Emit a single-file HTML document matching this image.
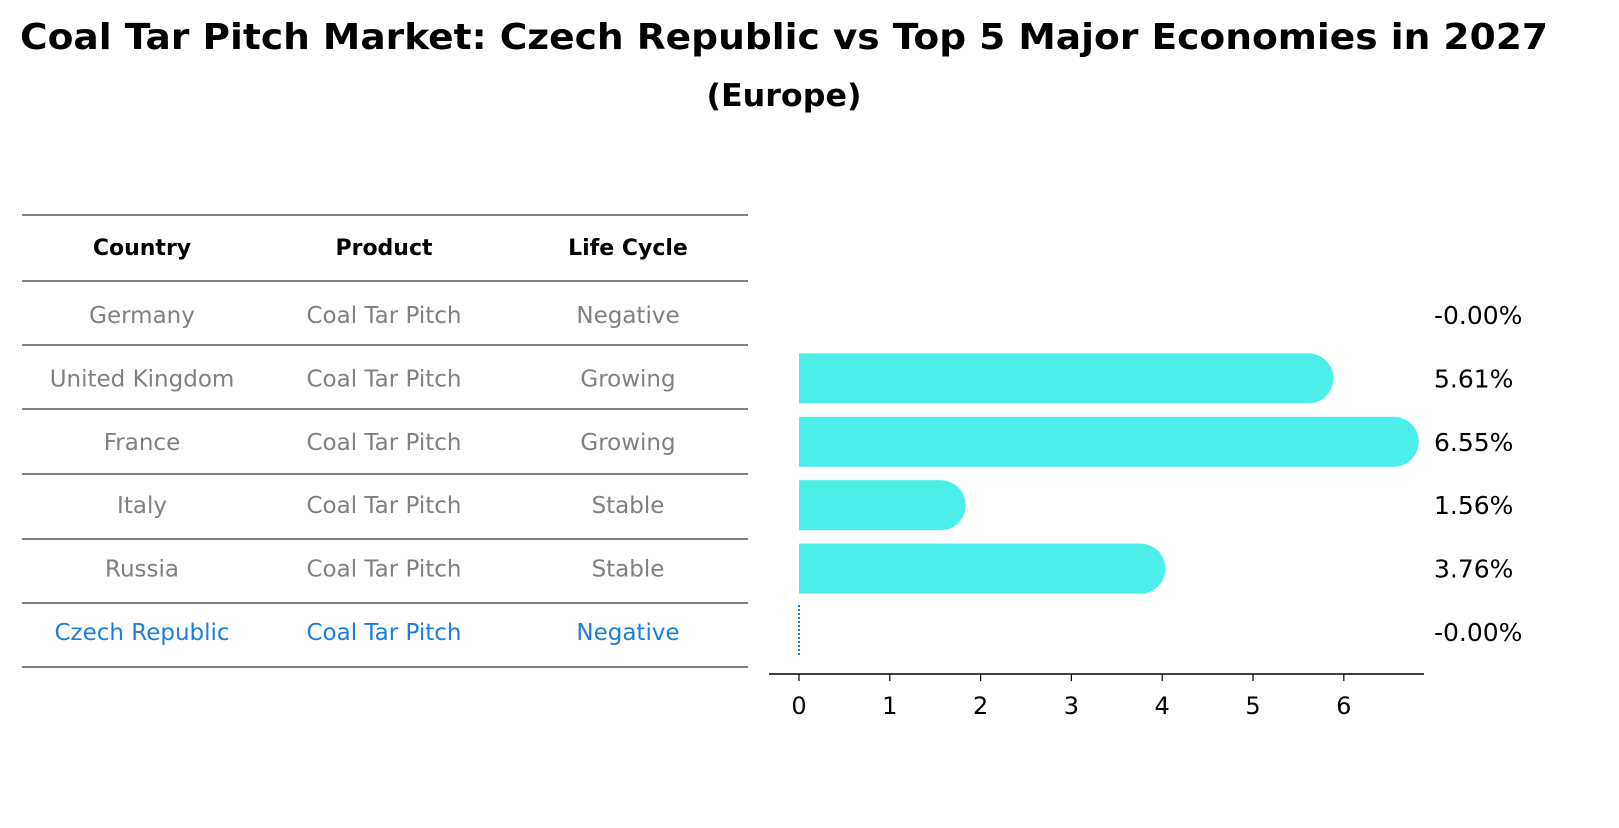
<!DOCTYPE html>
<html><head><meta charset="utf-8"><style>
body{margin:0;background:#fff;font-family:"Liberation Sans","DejaVu Sans",sans-serif;}
</style></head><body>
<svg width="1619" height="823" xmlns="http://www.w3.org/2000/svg" font-family="DejaVu Sans, Liberation Sans, sans-serif">
<text x="784" y="49" text-anchor="middle" font-size="36" font-weight="bold" textLength="1528" lengthAdjust="spacingAndGlyphs">Coal Tar Pitch Market: Czech Republic vs Top 5 Major Economies in 2027</text>
<text x="784" y="106" text-anchor="middle" font-size="31" font-weight="bold" textLength="155" lengthAdjust="spacingAndGlyphs">(Europe)</text>
<g id="table"></g>
<g id="plot"></g>
</svg>
<script>
const countries=["Germany","United Kingdom","France","Italy","Russia","Czech Republic"];
const products=["Coal Tar Pitch","Coal Tar Pitch","Coal Tar Pitch","Coal Tar Pitch","Coal Tar Pitch","Coal Tar Pitch"];
const lifeCycles=["Negative","Growing","Growing","Stable","Stable","Negative"];
const values=[0,5.61,6.55,1.56,3.76,0];
const valueLabels=["-0.00%","5.61%","6.55%","1.56%","3.76%","-0.00%"];
const xTicks=[0,1,2,3,4,5,6];
const NS="http://www.w3.org/2000/svg";
function mk(p,t,a,txt){const e=document.createElementNS(NS,t);for(const k in a)e.setAttribute(k,a[k]);if(txt!==undefined)e.textContent=txt;p.appendChild(e);return e;}
const tbl=document.getElementById('table');
const lines=[215,281,345,409,474,539,603,667];
lines.forEach((y,i)=>{const l=mk(tbl,'line',{x1:22,x2:748,y1:y,y2:y,stroke:'#000','stroke-width':1});

});
const cx=[142,384,628];
["Country","Product","Life Cycle"].forEach((h,i)=>{const t=mk(tbl,'text',{x:cx[i],y:255,'text-anchor':'middle','font-size':22,'font-weight':'bold'},h);

});
const rowY=i=>315+i*63.4;
countries.forEach((c,i)=>{const col=i==5?'#1a7fdc':'#808080';
[c,products[i],lifeCycles[i]].forEach((v,j)=>{const t=mk(tbl,'text',{x:cx[j],y:rowY(i)+8,'text-anchor':'middle','font-size':23,fill:col},v);

});});
const plot=document.getElementById('plot');
const x=v=>799+v*90.8;
const bh=50;
values.forEach((v,i)=>{const y=rowY(i);
if(v>0){const g=mk(plot,'g',{fill:'#4deeea'});


mk(g,'rect',{x:x(0),y:y-bh/2,width:x(v)-x(0),height:bh});
mk(g,'circle',{cx:x(v),cy:y,r:bh/2});}
else if(i==5){const l=mk(plot,'line',{x1:x(0),x2:x(0),y1:y-27,y2:y+25,stroke:'#1a7fdc','stroke-width':2,'stroke-dasharray':'2,2'});

}
const t=mk(plot,'text',{x:1434,y:y+9,'font-size':25},valueLabels[i]);

});
const ax=mk(plot,'line',{x1:769,x2:1424,y1:674,y2:674,stroke:'#000','stroke-width':1.5});


xTicks.forEach(v=>{const l=mk(plot,'line',{x1:x(v),x2:x(v),y1:674,y2:681,stroke:'#000','stroke-width':1.2});


const t=mk(plot,'text',{x:x(v),y:714,'text-anchor':'middle','font-size':24},v);

});
</script>
</body></html>
